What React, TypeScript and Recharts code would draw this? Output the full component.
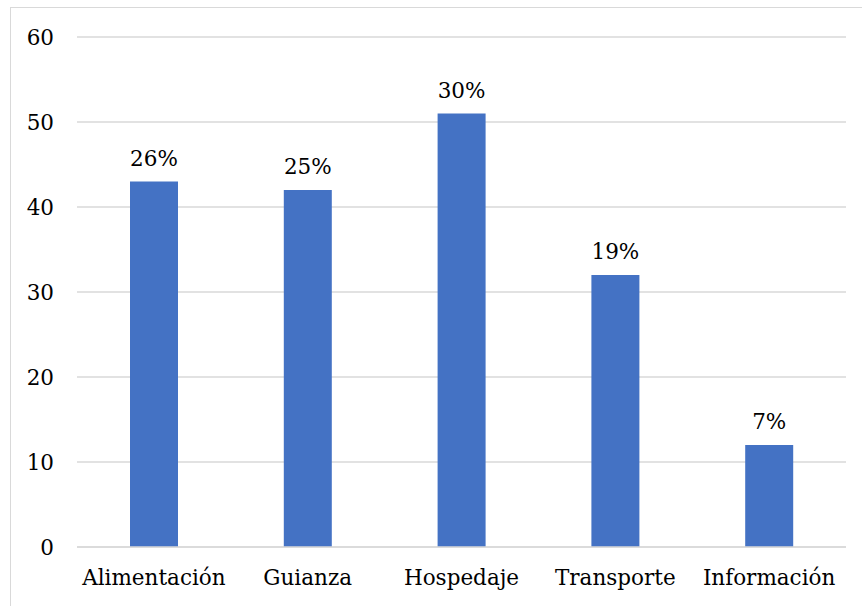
import { Bar, BarChart, CartesianGrid, LabelList, XAxis, YAxis } from "recharts";

const categories = ["Alimentación", "Guianza", "Hospedaje", "Transporte", "Información"];
const counts = [43, 42, 51, 32, 12];
const shares = ["26%", "25%", "30%", "19%", "7%"];
const yTicks = [0, 10, 20, 30, 40, 50, 60];

const data = categories.map((name, i) => ({ name, count: counts[i], share: shares[i] }));

// Liberation Serif isn't picked up in the sandbox, DejaVu Serif is
const font = "'DejaVu Serif', serif";
const textSize = 21.5;

export default function App() {
  return (
    <div
      style={{
        position: "absolute",
        left: 0,
        top: 0,
        width: 862,
        height: 606,
        overflow: "hidden",
        background: "#fff",
      }}
    >
      <div
        style={{
          position: "absolute",
          left: 10,
          top: 7,
          width: 870,
          height: 620,
          border: "1px solid #d9d9d9",
        }}
      />
      <BarChart
        width={862}
        height={606}
        data={data}
        margin={{ top: 37, right: 16, left: 0, bottom: 29 }}
        barSize={48}
        style={{ position: "absolute", left: 0, top: 0 }}
      >
        <CartesianGrid vertical={false} stroke="#d9d9d9" strokeWidth={1.5} />
        <XAxis
          dataKey="name"
          height={30}
          tickLine={false}
          axisLine={{ stroke: "#d9d9d9", strokeWidth: 1.5 }}
          tickMargin={17}
          tick={{ fill: "#000", fontSize: textSize, fontFamily: font }}
          interval={0}
        />
        <YAxis
          width={77}
          domain={[0, 60]}
          ticks={yTicks}
          tickLine={false}
          axisLine={false}
          tickMargin={17}
          tick={{ fill: "#000", fontSize: textSize, fontFamily: font }}
        />
        <Bar dataKey="count" fill="#4472c4" isAnimationActive={false}>
          <LabelList
            dataKey="share"
            position="top"
            offset={16}
            fill="#000"
            fontSize={textSize}
            fontFamily={font}
          />
        </Bar>
      </BarChart>
    </div>
  );
}
